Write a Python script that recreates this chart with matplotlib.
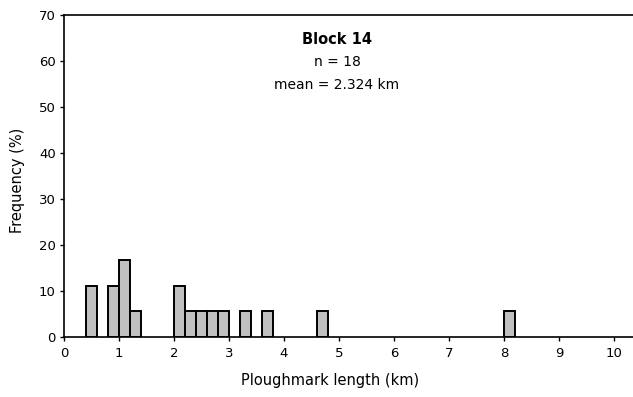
import matplotlib.pyplot as plt
import numpy as np

# ploughmark lengths binned at 0.2 km, counts per bin
bin_left = [0.4, 0.8, 1.0, 1.2, 2.0, 2.2, 2.4, 2.6, 2.8, 3.2, 3.6, 4.6, 8.0]
counts = [2, 2, 3, 1, 2, 1, 1, 1, 1, 1, 1, 1, 1]
bin_width = 0.2
n_total = 18
mean_len = 2.324
block_name = "Block 14"

freq = np.array(counts) / n_total * 100

W, H, DPI = 633, 397, 100
fig = plt.figure(figsize=(W / DPI, H / DPI), dpi=DPI)
x0, x1 = 64, 633
y0, y1 = 337, 15
ax = fig.add_axes([x0 / W, 1 - y0 / H, (x1 - x0) / W, (y0 - y1) / H])

ax.bar(bin_left, freq, width=bin_width, align="edge",
       color="#c0c0c0", edgecolor="black", linewidth=1.4, zorder=3)

ax.set_xlim(0, (x1 - x0) / 55.0)
ax.set_ylim(0, 70)
ax.set_xticks(range(0, 11))
ax.set_yticks(range(0, 71, 10))
ax.spines["right"].set_visible(False)
for s in ("left", "bottom", "top"):
    ax.spines[s].set_linewidth(1.2)
ax.tick_params(direction="out", length=3, width=1, labelsize=9.5)
ax.tick_params(axis="x", pad=4)
ax.tick_params(axis="y", pad=3)

ax.set_xlabel("Ploughmark length (km)", fontsize=10.5)
ax.set_ylabel("Frequency (%)", fontsize=10.5)
ax.xaxis.set_label_coords((330 - x0) / (x1 - x0), -(381 - y0) / (y0 - y1), transform=ax.transAxes)
ax.xaxis.label.set_va("center")
ax.yaxis.set_label_coords(-(64 - 18) / (x1 - x0), (y0 - 180) / (y0 - y1), transform=ax.transAxes)
ax.yaxis.label.set_va("center")

cx = 337 / W
fig.text(cx, 1 - 39 / H, block_name, ha="center", va="center",
         fontsize=10.5, fontweight="bold")
fig.text(cx, 1 - 62 / H, f"n = {n_total}", ha="center", va="center", fontsize=10)
fig.text(cx, 1 - 85 / H, f"mean = {mean_len:.3f} km", ha="center", va="center",
         fontsize=10)

fig.savefig("out.png", dpi=DPI)
